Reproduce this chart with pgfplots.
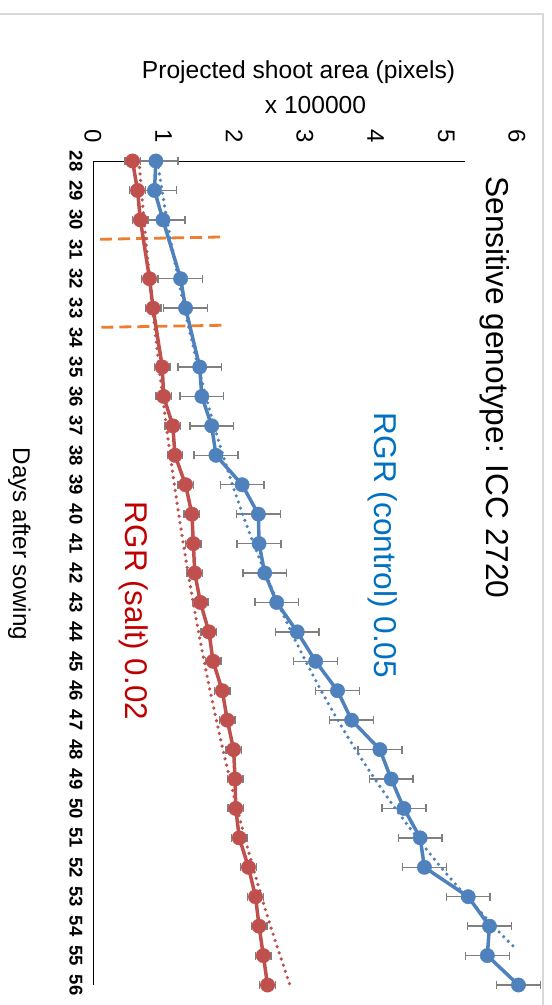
\documentclass[border=0pt]{standalone}
\usepackage{pgfplots}
\usepackage{pgfplotstable}
\pgfplotsset{compat=1.18}
\usepackage{fontspec}
\setmainfont{Liberation Sans}

\definecolor{ctrlblue}{HTML}{4F81BD}
\definecolor{saltred}{HTML}{C0504D}
\definecolor{ctrltext}{HTML}{0070C0}
\definecolor{salttext}{HTML}{C00000}
\definecolor{stagemark}{HTML}{ED7D31}
\definecolor{errgray}{HTML}{7F7F7F}
\definecolor{framegray}{HTML}{D9D9D9}

% projected shoot area (x 100000 pixels), mean and error
\pgfplotstableread{
day area err
28 0.89 0.31
29 0.87 0.31
30 0.99 0.31
32 1.24 0.31
33 1.31 0.31
35 1.51 0.31
36 1.54 0.31
37 1.68 0.31
38 1.74 0.31
39 2.11 0.31
40 2.34 0.31
41 2.35 0.31
42 2.43 0.31
43 2.60 0.31
44 2.89 0.31
45 3.15 0.31
46 3.46 0.31
47 3.66 0.31
48 4.06 0.31
49 4.22 0.31
50 4.40 0.31
51 4.63 0.31
52 4.69 0.31
53 5.31 0.31
54 5.61 0.31
55 5.58 0.31
56 6.02 0.31
}\controldata

\pgfplotstableread{
day area err
28 0.56 0.11
29 0.63 0.11
30 0.67 0.11
32 0.80 0.11
33 0.85 0.11
35 0.98 0.11
36 1.00 0.11
37 1.13 0.11
38 1.16 0.11
39 1.31 0.11
40 1.40 0.11
41 1.42 0.11
42 1.44 0.11
43 1.52 0.11
44 1.64 0.11
45 1.70 0.11
46 1.83 0.11
47 1.90 0.11
48 1.99 0.11
49 2.01 0.11
50 2.02 0.11
51 2.07 0.11
52 2.20 0.11
53 2.30 0.11
54 2.35 0.11
55 2.41 0.11
56 2.47 0.11
}\saltdata

% exponential trend lines
\pgfplotstableread{
day area
28 0.91
30 1.047
32 1.206
34 1.388
36 1.598
38 1.839
40 2.117
42 2.437
44 2.805
46 3.229
48 3.716
50 4.278
52 4.924
54 5.668
54.8 6.00
}\controltrend

\pgfplotstableread{
day area
28 0.65
30 0.722
32 0.800
34 0.888
36 0.985
38 1.093
40 1.213
42 1.346
44 1.494
46 1.657
48 1.839
50 2.040
52 2.264
54 2.512
56 2.787
}\salttrend

\begin{document}
\begin{tikzpicture}[x=1pt,y=1pt]
\useasboundingbox (0,0) rectangle (552,-1005);
\draw[framegray, line width=2pt] (0,-14) -- (543,-14) -- (543,-1006);

\begin{axis}[
  at={(93pt,-161pt)}, anchor=north west,
  scale only axis, width=424pt, height=824pt,
  xmin=0, xmax=6, ymin=28, ymax=56, y dir=reverse,
  clip=false,
  axis line style={draw=none},
  major tick length=0pt,
  /pgf/number format/assume math mode=true,
  xtick={0,1,2,3,4,5,6},
  xticklabel pos=upper,
  xticklabel style={rotate=-90, anchor=east, font=\fontsize{24}{24}\selectfont},
  xticklabel shift=15pt,
  ytick={28,29,...,56},
  yticklabel pos=lower,
  yticklabel style={rotate=-90, anchor=north, font=\bfseries\fontsize{18.5}{18.5}\selectfont},
  yticklabel shift=7pt,
  error bars/error bar style={errgray, line width=1.4pt},
  error bars/error mark options={errgray, line width=1.4pt, mark size=4pt, rotate=90},
]
% axis lines
\draw[black, line width=1pt] (axis cs:0,28) -- (axis cs:0,56);
\draw[black, line width=1pt] (axis cs:0,28) -- (axis cs:5.27,28);

% stage markers
\draw[stagemark, line width=2.8pt, dash pattern=on 12pt off 6pt]
  (axis cs:0.10,30.66) -- (axis cs:1.84,30.58);
\draw[stagemark, line width=2.8pt, dash pattern=on 12pt off 6pt]
  (axis cs:0.12,33.65) -- (axis cs:1.87,33.58);

% measured series with error bars
\addplot[ctrlblue, line width=3.5pt, mark=none,
  error bars/.cd, x dir=both, x explicit]
  table[x=area, y=day, x error=err] {\controldata};
\addplot[saltred, line width=3.5pt, mark=none,
  error bars/.cd, x dir=both, x explicit]
  table[x=area, y=day, x error=err] {\saltdata};
% markers on top of the error bars
\addplot[only marks, mark=*, mark size=7.2pt, ctrlblue,
  mark options={solid, line width=0.4pt}, forget plot]
  table[x=area, y=day] {\controldata};
\addplot[only marks, mark=*, mark size=7.2pt, saltred,
  mark options={solid, line width=0.4pt}, forget plot]
  table[x=area, y=day] {\saltdata};

% trend lines
\addplot[ctrlblue, no marks, smooth, line width=3.6pt, line cap=round,
  dash pattern=on 0pt off 6.5pt] table[x=area, y=day] {\controltrend};
\addplot[saltred, no marks, smooth, line width=3.6pt, line cap=round,
  dash pattern=on 0pt off 6.5pt] table[x=area, y=day] {\salttrend};
\end{axis}

% titles and annotations
\node[anchor=base, font=\fontsize{24.6}{24.6}\selectfont] at (298.5,-78) {Projected shoot area (pixels)};
\node[anchor=base, font=\fontsize{24.6}{24.6}\selectfont] at (315.5,-113.3) {x 100000};
\node[anchor=base, rotate=-90, font=\fontsize{24.2}{24.2}\selectfont] at (13,-544) {Days after sowing};
\node[anchor=base, rotate=-90, font=\fontsize{31.7}{31.7}\selectfont] at (486,-387.5) {Sensitive genotype: ICC 2720};
\node[anchor=base, rotate=-90, text=ctrltext, font=\fontsize{31.6}{31.6}\selectfont] at (374,-545.5) {RGR (control) 0.05};
\node[anchor=base, rotate=-90, text=salttext, font=\fontsize{31.4}{31.4}\selectfont] at (125,-611) {RGR (salt) 0.02};
\end{tikzpicture}
\end{document}
